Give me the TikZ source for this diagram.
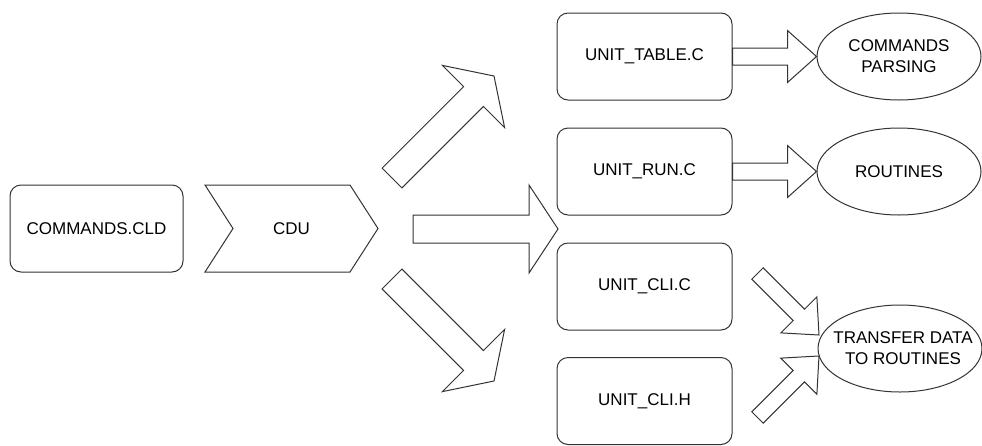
\documentclass[tikz,border=0pt]{standalone}
\usepackage{fontspec}
\setmainfont{Liberation Sans}
\usetikzlibrary{shapes.geometric,calc}

\tikzset{
  outline/.style={draw=black!80, line width=1pt, line join=miter},
  filebox/.style={outline, rounded corners=11pt, minimum width=175pt, minimum height=87pt,
    inner sep=0pt, font=\fontsize{17}{20}\selectfont},
  bubble/.style={outline, ellipse, minimum width=164pt, minimum height=87pt, inner sep=0pt},
  bubbletext/.style={align=center, inner sep=0pt, font=\fontsize{17}{21}\selectfont},
  blockarrow/.style={outline}
}

% block arrow: #1 tail, #2 tip, #3 half shaft width, #4 half head width, #5 head length
\newcommand\blockarrow[5]{%
  \coordinate (hb) at ($(#2)!#5!(#1)$);
  \draw[blockarrow]
    ($(#1)!#3!90:(#2)$) -- ($(hb)!#3!-90:(#1)$) -- ($(hb)!#4!-90:(#1)$) -- (#2)
    -- ($(hb)!#4!90:(#1)$) -- ($(hb)!#3!90:(#1)$) -- ($(#1)!#3!-90:(#2)$) -- cycle;
}

\begin{document}
\begin{tikzpicture}[x=1pt, y=-1pt]
  \useasboundingbox (0,0) rectangle (982,445);

  % source file and compiler stage
  \node[filebox, minimum width=173pt] (cld) at (96.5,228.5) {COMMANDS.CLD};
  \draw[outline] (205,185) -- (350,185) -- (378,228.5) -- (350,272) -- (205,272) -- (233,228.5) -- cycle;
  \node[font=\fontsize{17}{20}\selectfont] (cdu) at (291.5,228.5) {CDU};

  % generated units
  \node[filebox] (table) at (644.5,56.5) {UNIT\_TABLE.C};
  \node[filebox] (run)   at (644.5,171.5) {UNIT\_RUN.C};
  \node[filebox] (clic)  at (644.5,286.5) {UNIT\_CLI.C};
  \node[filebox] (clih)  at (644.5,401) {UNIT\_CLI.H};

  % purposes: fixed-size ellipses with their text set on top
  \node[bubble] (parse)    at (899,56.5)  {};
  \node[bubble] (routines) at (899,171.5) {};
  \node[bubble] (transfer) at (900,348.5) {};
  \node[bubbletext] (parsetext)    at (parse)    {COMMANDS\\PARSING};
  \node[bubbletext] (routinestext) at (routines) {ROUTINES};
  \node[bubbletext] (transfertext) at ([xshift=3pt]transfer.center) {TRANSFER DATA\\TO ROUTINES};

  % arrows out of the compiler stage
  \coordinate (upT) at (392,178);   \coordinate (upH) at (494,76);
  \coordinate (midT) at (413,229);  \coordinate (midH) at (558,229);
  \coordinate (loT) at (392,279);   \coordinate (loH) at (494,381);
  \blockarrow{upT}{upH}{14pt}{44pt}{29pt}
  \blockarrow{midT}{midH}{14pt}{44pt}{29pt}
  \blockarrow{loT}{loH}{14pt}{44pt}{29pt}

  % arrows into the purposes
  \blockarrow{table.east}{parse.west}{8.5pt}{26pt}{29pt}
  \blockarrow{run.east}{routines.west}{8.5pt}{26pt}{29pt}
  \coordinate (cT) at (757.5,273.5); \coordinate (cH) at (819,335);
  \coordinate (hT) at (757.5,417.5); \coordinate (hH) at (819,356);
  \blockarrow{cT}{cH}{8pt}{25.5pt}{28.5pt}
  \blockarrow{hT}{hH}{8pt}{25.5pt}{28.5pt}
\end{tikzpicture}
\end{document}
